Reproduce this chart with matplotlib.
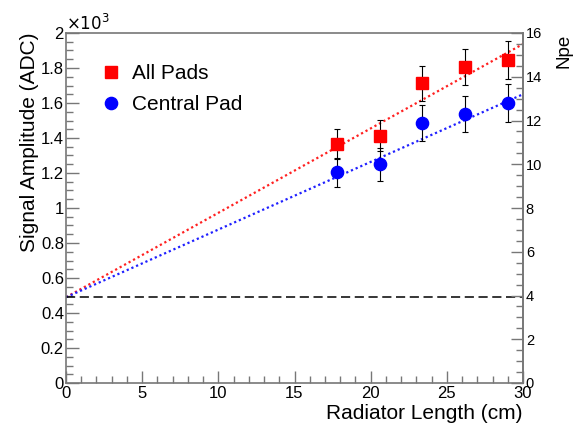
import numpy as np
import matplotlib.pyplot as plt
from matplotlib.ticker import MultipleLocator, FuncFormatter

plt.rcParams['font.family'] = ['Liberation Sans', 'DejaVu Sans']

# data
length = [17.8, 20.6, 23.4, 26.2, 29.0]
all_pads = [1366, 1413, 1712, 1804, 1846]
all_err = [84, 90, 99, 103, 109]
central = [1204, 1250, 1484, 1537, 1598]
central_err = [82, 95, 103, 105, 109]

fit_x = [0, 30]
all_fit = [490, 1937]
central_fit = [490, 1650]
threshold = 490

frame = '#777777'

fig = plt.figure(figsize=(5.76, 4.26), dpi=100)
ax = fig.add_axes([66/576, 1-383/426, (523-66)/576, (383-33)/426])

ax.plot(fit_x, all_fit, color='#ff2020', ls=(0, (1, 1.3)), lw=1.6)
ax.plot(fit_x, central_fit, color='#2020ff', ls=(0, (1, 1.3)), lw=1.6)
ax.plot(fit_x, [threshold, threshold], color='black', ls=(0, (6, 3)), lw=1.1)

ax.errorbar(length, all_pads, yerr=all_err, fmt='none', ecolor='black', elinewidth=0.8, capsize=2.2, capthick=0.8)
ax.errorbar(length, central, yerr=central_err, fmt='none', ecolor='black', elinewidth=0.8, capsize=2.2, capthick=0.8)
ax.plot(length, all_pads, 's', color='red', ms=8.8, mec='red', label='All Pads')
ax.plot(length, central, 'o', color='blue', ms=8.8, mec='blue', label='Central Pad')

ax.set_xlim(0, 30)
ax.set_ylim(0, 2000)
ax.xaxis.set_major_locator(MultipleLocator(5))
ax.xaxis.set_minor_locator(MultipleLocator(1))
ax.yaxis.set_major_locator(MultipleLocator(200))
ax.yaxis.set_minor_locator(MultipleLocator(50))
ax.yaxis.set_major_formatter(FuncFormatter(lambda v, p: f'{v/1000:g}'))
ax.tick_params(which='both', direction='in', color=frame, labelsize=12, top=False, right=False)
ax.tick_params(which='major', length=9, width=1)
ax.tick_params(which='minor', length=5, width=1)
ax.tick_params(axis='x', pad=2)
ax.tick_params(axis='y', pad=1.5)
for s in ax.spines.values():
    s.set_color(frame)
    s.set_linewidth(1.2)

ax.set_xlabel('Radiator Length (cm)', fontsize=15, loc='right', labelpad=2)
ax.set_ylabel('Signal Amplitude (ADC)', fontsize=15, loc='top', labelpad=1)
ax.text(0.0, 1.0, r'$\times10^{3}$', transform=ax.transAxes, fontsize=12, ha='left', va='bottom')

leg = ax.legend(loc='upper left', bbox_to_anchor=(0.0656, 0.911), frameon=False, fontsize=15,
                handletextpad=0.3, labelspacing=0.58, handlelength=1.44, borderaxespad=0, borderpad=0)

ax2 = ax.twinx()
ax2.set_ylim(0, 16)
ax2.yaxis.set_major_locator(MultipleLocator(2))
ax2.yaxis.set_minor_locator(MultipleLocator(0.5))
ax2.tick_params(which='both', direction='in', color=frame, labelsize=10.5, pad=2)
ax2.tick_params(which='major', length=9, width=1)
ax2.tick_params(which='minor', length=5, width=1)
for s in ax2.spines.values():
    s.set_visible(False)
ax2.spines['right'].set_visible(True)
ax2.spines['right'].set_color(frame)
ax2.spines['right'].set_linewidth(1.2)
fig.text(563.5/576, 1-34/426, 'Npe', rotation=90, fontsize=13.5, ha='center', va='top')

fig.savefig('out.png', dpi=100)
